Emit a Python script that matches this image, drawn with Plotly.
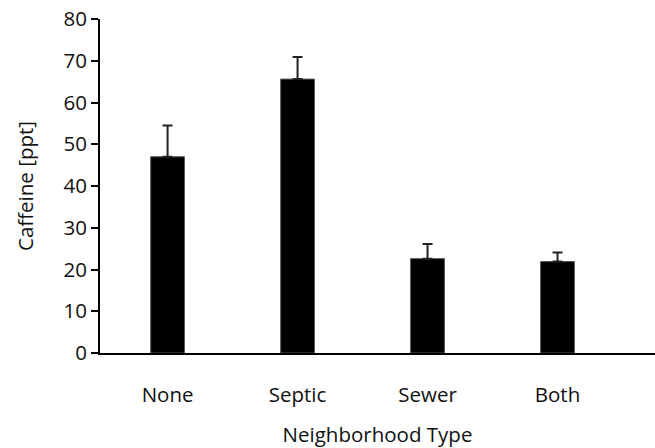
import plotly.graph_objects as go

categories = ["None", "Septic", "Sewer", "Both"]
caffeine = [47.0, 65.6, 22.6, 21.9]
err_plus = [7.5, 5.3, 3.5, 2.2]
y_ticks = [0, 10, 20, 30, 40, 50, 60, 70, 80]

FONT = "Open Sans"
FS = 20.5

fig = go.Figure()
fig.add_trace(go.Bar(
    x=categories,
    y=caffeine,
    width=0.26,
    marker=dict(color="black", line=dict(color="#555555", width=1)),
    error_y=dict(type="data", symmetric=False, array=err_plus,
                 arrayminus=[0] * len(err_plus),
                 color="#222222", thickness=2, width=5),
))

fig.update_layout(
    width=655, height=448,
    margin=dict(l=100, r=0, t=19, b=95, autoexpand=False),
    plot_bgcolor="white", paper_bgcolor="white",
    showlegend=False,
    font=dict(family=FONT, size=FS, color="#111111"),
)
fig.update_xaxes(
    range=[-0.52, 3.75], automargin=False,
    showline=True, linecolor="black", linewidth=2,
    ticks="", ticklabelstandoff=22,
    tickfont=dict(size=FS),
    title=dict(text="Neighborhood Type", font=dict(size=FS), standoff=26),
    showgrid=False, zeroline=False,
)
fig.update_yaxes(
    range=[0, 80], tickvals=y_ticks, automargin=False,
    showline=True, linecolor="black", linewidth=2,
    ticks="outside", ticklen=7, tickwidth=2, tickcolor="black",
    tickfont=dict(size=FS),
    title=dict(text="Caffeine [ppt]", font=dict(size=FS), standoff=24),
    showgrid=False, zeroline=False,
)

fig.write_html("out.html",
               config={"displayModeBar": False},
               post_script="document.body.style.margin='0px';document.body.style.overflow='hidden';")
